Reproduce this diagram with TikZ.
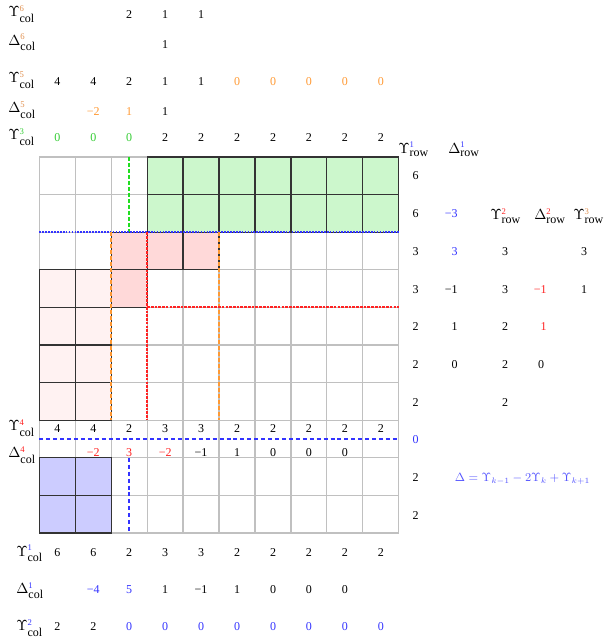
\documentclass[tikz,border=0pt]{standalone}
\usepackage{fontspec}
\setmainfont{Liberation Serif}
\usepackage{amsmath}
\definecolor{cblue}{HTML}{3333FF}
\definecolor{cred}{HTML}{FF2222}
\definecolor{corange}{HTML}{FF9933}
\definecolor{ctan}{HTML}{E09050}
\definecolor{cgreen}{HTML}{33CC33}
\definecolor{cdgreen}{HTML}{22DD22}
\definecolor{fblue}{HTML}{5555FF}
\definecolor{gfill}{HTML}{CCF7CC}
\definecolor{pfill}{HTML}{FFD9D9}
\definecolor{lpfill}{HTML}{FFF2F2}
\definecolor{bfill}{HTML}{CCCCFF}
\definecolor{gridgray}{HTML}{C0C0C0}
\definecolor{edgecol}{HTML}{333333}
\newcommand\vorange[1]{\textcolor{corange}{#1}}
\newcommand\vgreen[1]{\textcolor{cgreen}{#1}}
\newcommand\vred[1]{\textcolor{cred}{#1}}
\newcommand\vblue[1]{\textcolor{cblue}{#1}}
\newcommand\UpsLab[3]{$\Upsilon^{\text{\fontsize{6.5}{6.5}\selectfont\textcolor{#1}{#2}}}_{\text{\fontsize{9}{9}\selectfont #3}}$}
\newcommand\DelLab[3]{$\Delta^{\text{\fontsize{6.5}{6.5}\selectfont\textcolor{#1}{#2}}}_{\text{\fontsize{9}{9}\selectfont #3}}$}
\newcommand\valrow[3]{\foreach \v [count=\i from 0] in {#3} {\node[num] (#1-\i) at ({57.3+35.95*\i},#2) {\v};}}
\begin{document}
\begin{tikzpicture}[x=0.75pt,y=-0.75pt,
  num/.style={font=\fontsize{9}{11}\selectfont, inner sep=0pt, anchor=base},
  lab/.style={font=\fontsize{10.5}{12}\selectfont, inner sep=0pt, anchor=base west},
  gridline/.style={draw=gridgray, line width=0.9pt},
  cellline/.style={draw=edgecol, line width=0.9pt},
  greendash/.style={draw=cdgreen, line width=1.1pt, dash pattern=on 3pt off 1.5pt},
  orangedash/.style={draw=corange, line width=1.1pt, dash pattern=on 3pt off 1.5pt},
  bluedot/.style={draw=cblue, line width=1.3pt, dash pattern=on 1.3pt off 0.9pt},
  reddot/.style={draw=cred, line width=1.4pt, dash pattern=on 2pt off 0.8pt},
  bluedash/.style={draw=cblue, line width=1.3pt, dash pattern=on 3pt off 2.2pt}]
\useasboundingbox (0,0) rectangle (603,641);

% ---------------- grid ----------------
\begin{scope}[shift={(39.3,157)}, x=26.96pt, y=-28.2pt]
  \fill[gfill] (3,0) rectangle (10,2);
  \fill[pfill] (2,2) rectangle (5,3);
  \fill[pfill] (2,3) rectangle (3,4);
  \fill[lpfill] (0,3) rectangle (2,7);
  \fill[bfill] (0,8) rectangle (2,10);
  \foreach \k in {0,...,10} {
    \draw[gridline] (\k,0) -- (\k,10);
    \draw[gridline] (0,\k) -- (10,\k);
  }
  \foreach \a in {3,...,9} \foreach \b in {0,1} \draw[cellline] (\a,\b) rectangle ++(1,1);
  \foreach \a/\b in {2/2,3/2,4/2,2/3} \draw[cellline] (\a,\b) rectangle ++(1,1);
  \foreach \a in {0,1} \foreach \b in {3,...,6} \draw[cellline] (\a,\b) rectangle ++(1,1);
  \foreach \a in {0,1} \foreach \b in {8,9} \draw[cellline] (\a,\b) rectangle ++(1,1);
  % guide lines
  \coordinate (g1) at (2.5,0); \coordinate (g2) at (2.5,2);
  \draw[greendash] (g1) -- (g2);
  \coordinate (b1) at (0,2); \coordinate (b2) at (10,2);
  \draw[bluedot] (b1) -- (b2);
  \coordinate (o1) at (2,2); \coordinate (o2) at (2,7);
  \coordinate (o3) at (5,2); \coordinate (o4) at (5,7);
  \draw[orangedash] (o1) -- (o2);
  \draw[orangedash] (o3) -- (o4);
  \coordinate (r1) at (3,2); \coordinate (r2) at (3,7);
  \coordinate (r3) at (3,4); \coordinate (r4) at (10,4);
  \draw[reddot] (r1) -- (r2);
  \draw[reddot] (r3) -- (r4);
  \coordinate (d1) at (0,7.5); \coordinate (d2) at (10,7.5);
  \draw[bluedash] (d1) -- (d2);
  \coordinate (d3) at (2.5,8); \coordinate (d4) at (2.5,10);
  \draw[bluedash] (d3) -- (d4);
\end{scope}

% ---------------- top rows ----------------
\node[lab] (L6) at (8,16.7) {\UpsLab{ctan}{6}{col}};
\valrow{u6}{18.3}{,,2,1,1}
\node[lab] (D6) at (8,45.3) {\DelLab{ctan}{6}{col}};
\valrow{d6}{48.7}{,,,1}
\node[lab] (L5) at (8,82.7) {\UpsLab{ctan}{5}{col}};
\valrow{u5}{86}{4,4,2,1,1,\vorange{0},\vorange{0},\vorange{0},\vorange{0},\vorange{0}}
\node[lab] (D5) at (8,112.7) {\DelLab{ctan}{5}{col}};
\valrow{d5}{116}{,\vorange{−2},\vorange{1},1}
\node[lab] (L3) at (8,140) {\UpsLab{cgreen}{3}{col}};
\valrow{u3}{141.7}{\vgreen{0},\vgreen{0},\vgreen{0},2,2,2,2,2,2,2}

% ---------------- middle row ----------------
\node[lab] (L4) at (8,430.7) {\UpsLab{cred}{4}{col}};
\valrow{u4}{432.7}{4,4,2,3,3,2,2,2,2,2}
\node[lab] (D4) at (8,457.7) {\DelLab{cred}{4}{col}};
\valrow{d4}{456}{,\vred{−2},\vred{3},\vred{−2},−1,1,0,0,0}

% ---------------- bottom rows ----------------
\node[lab] (L1) at (16,556) {\UpsLab{cblue}{1}{col}};
\valrow{u1}{556}{6,6,2,3,3,2,2,2,2,2}
\node[lab] (D1) at (16,593.3) {\DelLab{cblue}{1}{col}};
\valrow{d1}{593}{,\vblue{−4},\vblue{5},1,−1,1,0,0,0}
\node[lab] (L2) at (16,630.7) {\UpsLab{cblue}{2}{col}};
\valrow{u2}{630.7}{2,2,\vblue{0},\vblue{0},\vblue{0},\vblue{0},\vblue{0},\vblue{0},\vblue{0},\vblue{0}}

% ---------------- right columns ----------------
\node[lab] (R1) at (398,153.3) {\UpsLab{cblue}{1}{row}};
\node[lab] (RD1) at (448,153.3) {\DelLab{cblue}{1}{row}};
\node[lab] (R2) at (490,219.5) {\UpsLab{cred}{2}{row}};
\node[lab] (RD2) at (534,219.5) {\DelLab{cred}{2}{row}};
\node[lab] (R3) at (573,219.5) {\UpsLab{ctan}{3}{row}};

\foreach \v [count=\j from 0] in {6,6,3,3,2,2,2,\vblue{0},2,2}
  \node[num] (ur1-\j) at (415.7,{179.9+37.7*\j}) {\v};
\foreach \v/\j in {\vblue{−3}/1,\vblue{3}/2,−1/3,1/4,0/5}
  \node[num, anchor=base east] (dr1-\j) at (458,{179.9+37.7*\j}) {\v};
\foreach \v/\j in {3/2,3/3,2/4,2/5,2/6}
  \node[num] (ur2-\j) at (505,{179.9+37.7*\j}) {\v};
\node[num, anchor=base east] (dr2-3) at (547,{179.9+37.7*3}) {\vred{−1}};
\node[num, anchor=base east] (dr2-4) at (547,{179.9+37.7*4}) {\vred{1}};
\node[num] (dr2-5) at (541,{179.9+37.7*5}) {0};
\node[num] (ur3-2) at (584,{179.9+37.7*2}) {3};
\node[num] (ur3-3) at (584,{179.9+37.7*3}) {1};

% ---------------- formula ----------------
\node[num, text=fblue] (formula) at (522.5,481.7) {$\Delta = \Upsilon_{k-1} - 2\Upsilon_k + \Upsilon_{k+1}$};
\end{tikzpicture}
\end{document}
